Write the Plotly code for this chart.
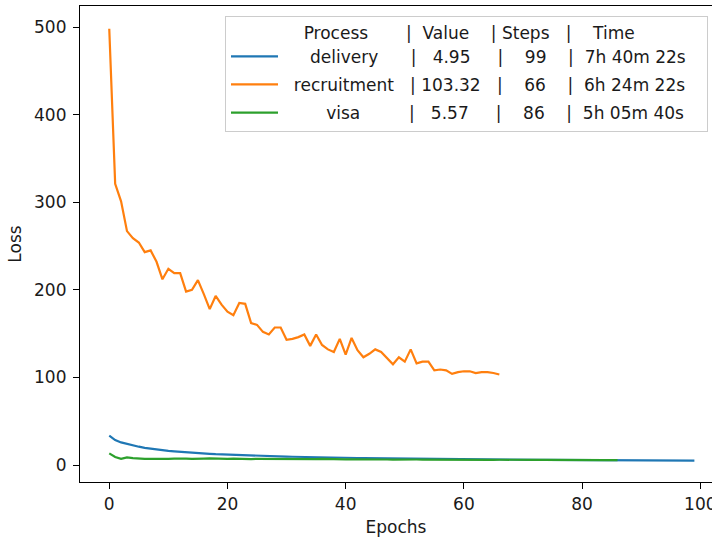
import plotly.graph_objects as go

# ---------------- data ----------------
processes = ["delivery", "recruitment", "visa"]
final_values = ["4.95", "103.32", "5.57"]
steps = ["99", "66", "86"]
times = ["7h 40m 22s", "6h 24m 22s", "5h 05m 40s"]

delivery_loss = [
    33.5, 28.5, 25.8, 23.9, 22.3, 20.9, 19.6, 18.6, 17.7, 16.9,
    16.2, 15.6, 15.0, 14.5, 14.0, 13.6, 13.2, 12.8, 12.4, 12.1,
    11.8, 11.5, 11.2, 11.0, 10.7, 10.5, 10.3, 10.1, 9.9, 9.7,
    9.5, 9.4, 9.2, 9.1, 8.9, 8.8, 8.7, 8.5, 8.4, 8.3,
    8.2, 8.1, 8.0, 7.9, 7.8, 7.7, 7.6, 7.5, 7.45, 7.35,
    7.3, 7.2, 7.1, 7.05, 7.0, 6.9, 6.85, 6.8, 6.7, 6.65,
    6.6, 6.55, 6.5, 6.45, 6.4, 6.35, 6.3, 6.25, 6.2, 6.15,
    6.1, 6.05, 6.0, 5.95, 5.9, 5.88, 5.84, 5.8, 5.76, 5.72,
    5.68, 5.64, 5.6, 5.57, 5.53, 5.5, 5.46, 5.43, 5.4, 5.37,
    5.33, 5.3, 5.27, 5.2, 5.17, 5.12, 5.08, 5.03, 5.0, 4.95,
]

recruitment_loss = [
    498, 321, 301, 267, 259, 254, 243, 245, 232, 212,
    224, 219, 219, 198, 200, 211, 195, 178, 193, 183,
    175, 171, 185, 184, 162, 160, 152, 149, 157, 157,
    143, 144, 146, 149, 136, 149, 137, 132, 129, 144,
    126, 145, 131, 123, 127, 132, 129, 122, 115, 123,
    118, 132, 116, 118, 118, 108, 109, 108, 104, 106,
    107, 107, 105, 106, 106, 105, 103.32,
]

visa_loss = [
    13.3, 9.2, 7.0, 8.6, 7.9, 7.3, 7.0, 7.1, 6.8, 6.9,
    7.0, 7.3, 7.6, 7.2, 6.9, 6.8, 7.2, 7.5, 7.2, 7.0,
    7.1, 7.3, 7.0, 6.9, 6.8, 7.0, 6.9, 6.7, 6.8, 6.9,
    6.7, 6.6, 6.8, 6.7, 6.5, 6.6, 6.9, 6.6, 6.5, 6.6,
    6.4, 6.5, 6.6, 6.4, 6.3, 6.4, 6.5, 6.3, 6.2, 6.4,
    6.3, 6.2, 6.3, 6.2, 6.1, 6.2, 6.3, 6.1, 6.0, 6.1,
    6.2, 6.0, 6.0, 6.1, 5.9, 5.9, 6.0, 6.1, 5.9, 5.8,
    5.9, 5.8, 5.9, 5.8, 5.7, 5.8, 5.7, 5.7, 5.8, 5.6,
    5.7, 5.6, 5.6, 5.7, 5.6, 5.6, 5.57,
]

series = [delivery_loss, recruitment_loss, visa_loss]
colors = ["#1f77b4", "#ff7f0e", "#2ca02c"]

x_tick_vals = [0, 20, 40, 60, 80, 100]
y_tick_vals = [0, 100, 200, 300, 400, 500]

# column padding (number of spaces) for the legend table text
title_pad = [14, 7, 2, 4, 1, 3, 4]
row_pad = [
    [5, 6, 3, 5, 4, 4, 2],
    [2, 3, 1, 3, 4, 4, 2],
    [8, 9, 3, 5, 4, 4, 2],
]
NB = "\u00a0"


def build(cells, pad, tail=3):
    # cells: name, |, value, |, steps, |, time
    s = NB * pad[0] + cells[0] + NB * pad[1] + "|" + NB * pad[2] + cells[1]
    s += NB * pad[3] + "|" + NB * pad[4] + cells[2] + NB * pad[5] + "|" + NB * pad[6] + cells[3]
    return s + NB * tail


FONT = "DejaVu Sans"
fig = go.Figure()
for i, name in enumerate(processes):
    ys = series[i]
    fig.add_trace(go.Scatter(
        x=list(range(len(ys))), y=ys, mode="lines",
        line=dict(color=colors[i], width=2.2),
        name=build([name, final_values[i], steps[i], times[i]], row_pad[i]),
        legendgroup="g%d" % i,
    ))

title_text = build(["Process", "Value", "Steps", "Time"], title_pad, tail=0)

axis_common = dict(
    showline=True, linecolor="#000000", linewidth=1.2,
    ticks="outside", ticklen=6, tickwidth=1.2, tickcolor="#000000",
    showgrid=False, zeroline=False, automargin=False,
    ticklabeloverflow="allow",
    tickfont=dict(family=FONT, size=17, color="#1a1a1a"),
)

fig.update_layout(
    width=712, height=539,
    margin=dict(l=80, r=0, t=6, b=57, autoexpand=False),
    paper_bgcolor="white", plot_bgcolor="white",
    font=dict(family=FONT, size=17, color="#1a1a1a"),
    xaxis=dict(
        range=[-4.95, 101.98], tickvals=x_tick_vals, mirror=True, tickangle=0,
        title=dict(text="Epochs", font=dict(family=FONT, size=17), standoff=8),
        **axis_common,
    ),
    yaxis=dict(
        range=[-19.4, 524], tickvals=y_tick_vals, mirror=False,
        ticklabelstandoff=3,
        title=dict(text="Loss", font=dict(family=FONT, size=17), standoff=8),
        **axis_common,
    ),
    legend=dict(
        x=(225 - 80) / 632, y=1 - (15.7 - 6) / 476, xanchor="left", yanchor="top",
        bgcolor="rgba(255,255,255,0.8)", bordercolor="#cccccc", borderwidth=1,
        font=dict(family=FONT, size=17, color="#1a1a1a"),
        title=dict(text=title_text, side="top", font=dict(family=FONT, size=17)),
        traceorder="grouped", tracegroupgap=3, itemwidth=47,
    ),
)

fig.write_html("out.html")
